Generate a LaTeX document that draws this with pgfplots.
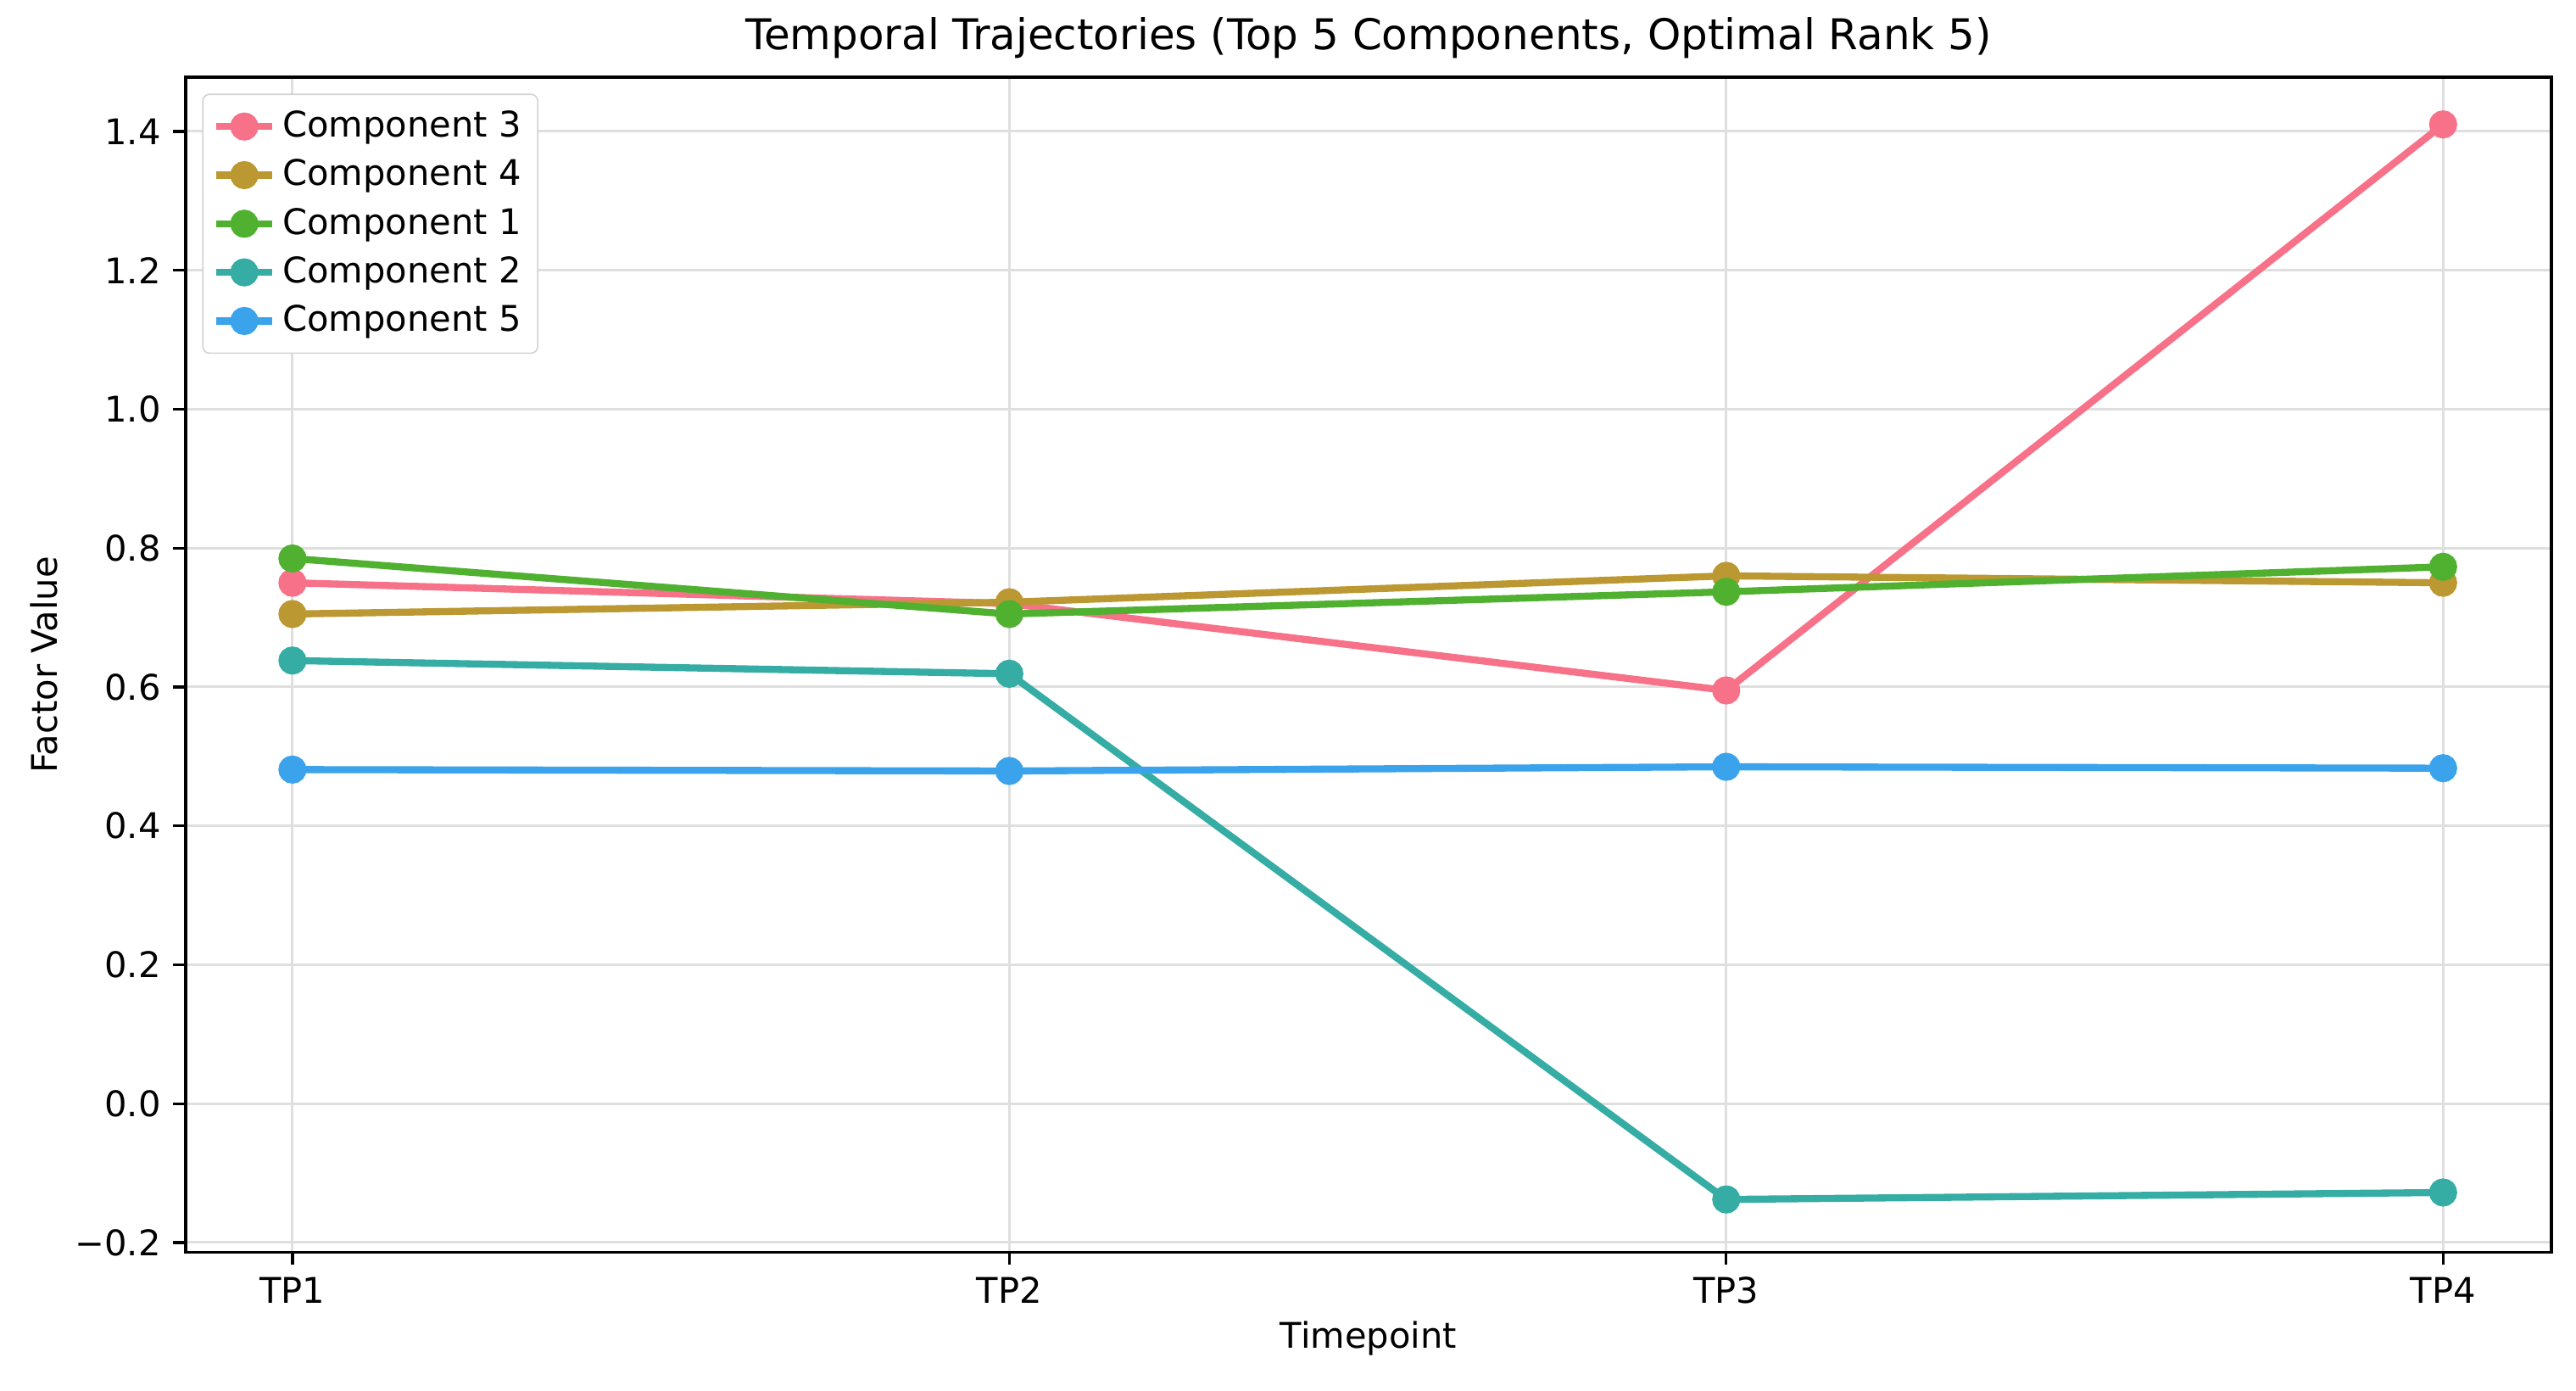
\documentclass[border=0pt]{standalone}
\usepackage{pgfplots}
\pgfplotsset{compat=1.18}
\usepackage{fontspec}
\setmainfont{DejaVu Sans}
\definecolor{cA}{HTML}{F77189}
\definecolor{cB}{HTML}{BB9832}
\definecolor{cC}{HTML}{50B131}
\definecolor{cD}{HTML}{36ADA4}
\definecolor{cE}{HTML}{3BA3EC}
\begin{document}
\fontsize{10.75pt}{12.9pt}\selectfont
\begin{tikzpicture}
\useasboundingbox (-56.5pt,-42pt) rectangle (727.5pt,381pt);
\begin{axis}[at={(0,0)},anchor=south west,scale only axis,width=720pt,height=357.5pt,
xmin=-0.149,xmax=3.151,ymin=-0.214,ymax=1.478,
xtick={0,1,2,3},xticklabels={TP1,TP2,TP3,TP4},
ytick={-0.2,0,0.2,0.4,0.6,0.8,1.0,1.2,1.4},
yticklabels={−0.2,0.0,0.2,0.4,0.6,0.8,1.0,1.2,1.4},
xtick pos=bottom,ytick pos=left,
ticklabel style={font=\fontsize{10.75pt}{12.9pt}\selectfont},
grid=major,grid style={gray!25,line width=0.8pt},
axis line style={line width=0.85pt},
tick style={black,line width=0.85pt},
tick align=outside,major tick length=3.8pt,
xlabel={Timepoint},ylabel={Factor Value},
xlabel style={yshift=2pt},ylabel style={yshift=-2pt},
label style={font=\fontsize{10.75pt}{12.9pt}\selectfont},
title={Temporal Trajectories (Top 5 Components, Optimal Rank 5)},
title style={font=\fontsize{12.9pt}{15pt}\selectfont,yshift=-4pt},
legend style={font=\fontsize{10.75pt}{12.9pt}\selectfont,draw=gray!35,rounded corners=2pt,at={(0.007,0.986)},anchor=north west,row sep=1.2pt,inner sep=3pt},
legend cell align=left,
every axis plot/.append style={line width=2.15pt,mark=*,mark size=3.2pt},
]
\addplot[cA,mark options={fill=cA}] coordinates {(0,0.75)(1,0.72)(2,0.595)(3,1.41)};
\addlegendentry{Component 3}
\addplot[cB,mark options={fill=cB}] coordinates {(0,0.705)(1,0.722)(2,0.76)(3,0.75)};
\addlegendentry{Component 4}
\addplot[cC,mark options={fill=cC}] coordinates {(0,0.785)(1,0.705)(2,0.737)(3,0.773)};
\addlegendentry{Component 1}
\addplot[cD,mark options={fill=cD}] coordinates {(0,0.638)(1,0.619)(2,-0.138)(3,-0.128)};
\addlegendentry{Component 2}
\addplot[cE,mark options={fill=cE}] coordinates {(0,0.481)(1,0.479)(2,0.485)(3,0.483)};
\addlegendentry{Component 5}
\end{axis}
\end{tikzpicture}
\end{document}
